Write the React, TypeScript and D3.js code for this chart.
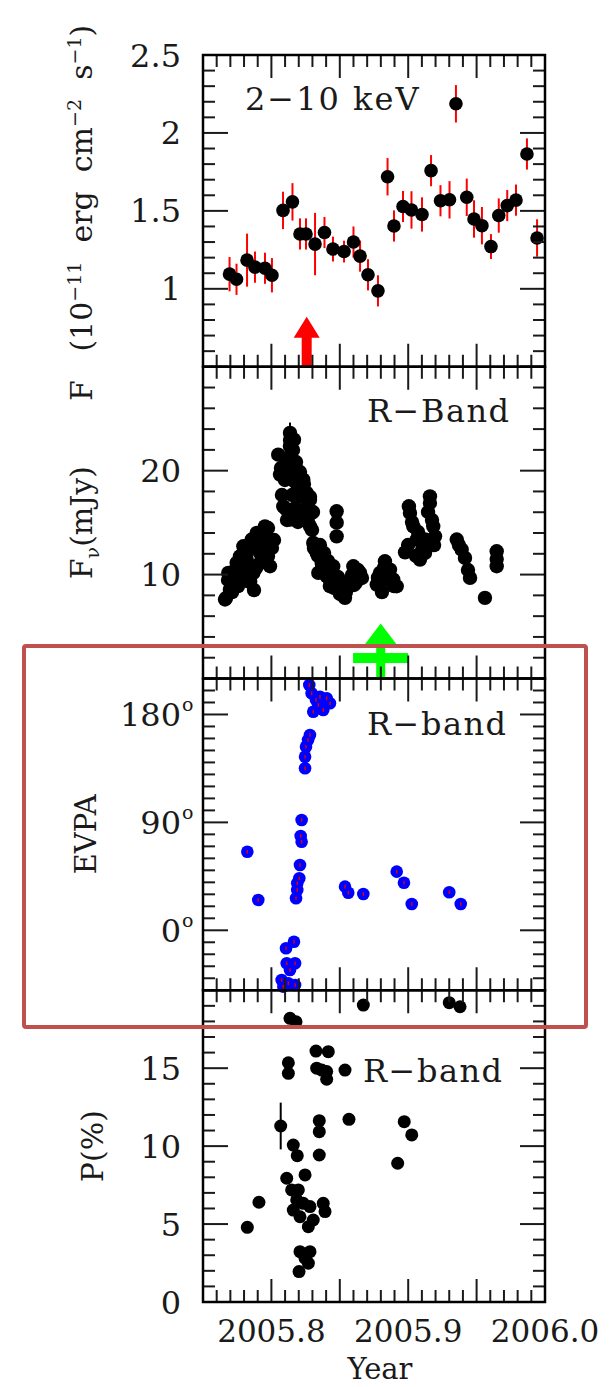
import React from 'react';
import * as d3 from 'd3';

// ---------- data ----------
// Panel 1: 2-10 keV X-ray flux (1e-11 erg cm^-2 s^-1)
const xrayYear = [2005.7694, 2005.7745, 2005.7822, 2005.7880, 2005.7953, 2005.8004, 2005.8085, 2005.8154, 2005.8209, 2005.8253, 2005.8319, 2005.8388, 2005.8450, 2005.8531, 2005.8600, 2005.8648, 2005.8706, 2005.8779, 2005.8849, 2005.8896, 2005.8962, 2005.9024, 2005.9101, 2005.9167, 2005.9236, 2005.9302, 2005.9349, 2005.9428, 2005.9481, 2005.9539, 2005.9605, 2005.9662, 2005.9724, 2005.9788, 2005.9868, 2005.9942];
const xrayFlux = [1.094, 1.061, 1.184, 1.139, 1.132, 1.087, 1.503, 1.558, 1.352, 1.352, 1.287, 1.361, 1.255, 1.239, 1.30, 1.21, 1.09, 0.987, 1.719, 1.403, 1.528, 1.506, 1.477, 1.758, 1.565, 1.571, 2.187, 1.587, 1.448, 1.405, 1.271, 1.470, 1.534, 1.569, 1.865, 1.326];
const xrayErr = [0.11, 0.10, 0.17, 0.10, 0.10, 0.11, 0.12, 0.12, 0.10, 0.10, 0.20, 0.10, 0.08, 0.07, 0.10, 0.10, 0.10, 0.10, 0.12, 0.10, 0.10, 0.12, 0.11, 0.10, 0.10, 0.12, 0.12, 0.12, 0.12, 0.12, 0.08, 0.11, 0.10, 0.10, 0.10, 0.12];

// Panel 2: R-band flux density (mJy) -- rising branch
const optYearRise = [2005.7661, 2005.7697, 2005.7685, 2005.7721, 2005.7746, 2005.7756, 2005.7770, 2005.7795, 2005.7819, 2005.7844, 2005.7856, 2005.7868, 2005.7893, 2005.7902, 2005.7917, 2005.7931, 2005.7953, 2005.7990, 2005.7990,
  2005.7683, 2005.7727, 2005.7770, 2005.7814, 2005.7858, 2005.7902, 2005.7946, 2005.7975,
  2005.7668, 2005.7712, 2005.7756, 2005.7800, 2005.7844, 2005.7887, 2005.7931, 2005.7975, 2005.8004, 2005.8019,
  2005.7741, 2005.7829, 2005.7917, 2005.7990, 2005.7844, 2005.7873];
const optFluxRise = [7.6, 8.56, 10.16, 9.52, 11.13, 10.29, 11.76, 12.72, 11.44, 9.36, 13.37, 10.16, 14.01, 10.96, 12.09, 13.37, 14.64, 12.72, 10.8,
  9.48, 10.34, 11.11, 11.88, 12.65, 13.33, 14.0, 14.48,
  7.74, 8.31, 8.89, 9.48, 10.05, 10.63, 11.21, 11.79, 12.56, 13.33,
  9.48, 10.92, 12.17, 13.33, 9.28, 8.51];
// peak
const optYearPeak = [2005.8050, 2005.8063, 2005.8087, 2005.8112, 2005.8136, 2005.8136, 2005.8136, 2005.8151, 2005.8165, 2005.8185, 2005.8194, 2005.8209, 2005.8233, 2005.8258, 2005.8282, 2005.8295, 2005.8282,
  2005.8136, 2005.8158, 2005.8121, 2005.8180, 2005.8070, 2005.8143, 2005.8209, 2005.8099, 2005.8173, 2005.8238, 2005.8077, 2005.8151, 2005.8224, 2005.8282, 2005.8099, 2005.8173, 2005.8246, 2005.8304, 2005.8114, 2005.8194, 2005.8268, 2005.8297];
const optFluxPeak = [21.54, 19.62, 16.57, 16.25, 23.63, 22.34, 15.29, 21.06, 22.98, 20.1, 18.17, 15.61, 19.13, 17.86, 17.21, 15.93, 14.64,
  22.95, 21.99, 21.22, 20.83, 20.25, 20.06, 19.87, 19.1, 18.91, 18.72, 17.66, 17.66, 17.47, 17.47, 16.41, 16.41, 16.21, 16.02, 15.25, 15.06, 15.06, 14.29];
// decline
const optYearFall = [2005.8306, 2005.8331, 2005.8368, 2005.8343, 2005.8404, 2005.8428, 2005.8452, 2005.8477, 2005.8477, 2005.8477, 2005.8477, 2005.8526, 2005.8538, 2005.8575, 2005.8599, 2005.8648, 2005.8618,
  2005.8311, 2005.8341, 2005.8370, 2005.8399, 2005.8428, 2005.8458, 2005.8501, 2005.8355, 2005.8385, 2005.8414, 2005.8443, 2005.8487, 2005.8516, 2005.8545, 2005.8589, 2005.8633, 2005.8662, 2005.8604];
const optFluxFall = [13.05, 12.09, 11.13, 10.16, 9.84, 8.88, 10.8, 9.52, 16.09, 15.0, 13.68, 8.24, 7.76, 9.52, 10.8, 10.16, 9.23,
  12.55, 11.79, 11.02, 10.25, 9.48, 8.71, 8.13, 12.84, 12.07, 11.31, 10.54, 9.77, 9.0, 8.32, 9.96, 10.44, 9.67, 9.0];
// second rise and later
const optYearLate = [2005.8770, 2005.8794, 2005.8830, 2005.8867, 2005.8891, 2005.8916, 2005.8977, 2005.9013, 2005.9037, 2005.9062, 2005.9086, 2005.9123, 2005.9123, 2005.9159, 2005.9159, 2005.9183, 2005.9196, 2005.9005,
  2005.8779, 2005.8823, 2005.8852, 2005.8896, 2005.8808, 2005.8999, 2005.9028, 2005.9072, 2005.9101, 2005.9145, 2005.9174, 2005.9189, 2005.9057,
  2005.9355, 2005.9391, 2005.9415, 2005.9452, 2005.9561, 2005.9647, 2005.9647, 2005.9647, 2005.9371, 2005.9437];
const optFluxLate = [9.04, 10.16, 11.28, 10.48, 9.52, 8.88, 12.14, 15.93, 14.64, 13.37, 11.44, 13.37, 12.09, 17.53, 16.89, 14.64, 13.68, 16.57,
  9.7, 10.66, 9.48, 8.89, 8.32, 12.84, 15.06, 14.1, 12.36, 16.02, 15.25, 12.84, 11.79,
  13.37, 12.4, 11.6, 9.68, 7.76, 12.24, 10.8, 11.5, 12.84, 10.44];
const optPeakYear = 2005.8136;
const optPeakFlux = 23.63;
const optPeakErr = 1.0;

// Panel 3: EVPA (deg)
const evpaYear = [2005.7824, 2005.7904,
  2005.8180, 2005.8189, 2005.8189, 2005.8204, 2005.8209, 2005.8221, 2005.8214, 2005.8221, 2005.8246, 2005.8246, 2005.8253, 2005.8268, 2005.8282,
  2005.8277, 2005.8294, 2005.8306, 2005.8343, 2005.8355, 2005.8379, 2005.8404, 2005.8428, 2005.8326,
  2005.8165, 2005.8107, 2005.8112, 2005.8173, 2005.8136, 2005.8075, 2005.8124, 2005.8173, 2005.8087,
  2005.8538, 2005.8562, 2005.8672, 2005.8916, 2005.8969, 2005.9026, 2005.9300, 2005.9384];
const evpaDeg = [65.5, 25.3,
  26.7, 33.6, 39.2, 43.4, 54.5, 73.9, 78.6, 92.0, 135.1, 144.8, 153.1, 158.7, 162.9,
  204.6, 197.7, 182.3, 187.9, 194.8, 183.7, 193.5, 189.3, 192.1,
  -9.5, -15, -27.5, -27.5, -33.1, -41.5, -44.2, -45.6, -47,
  36.4, 31.3, 30.3, 48.9, 39.7, 21.9, 31.7, 21.9];
const evpaErr = 1.5;

// Panel 4: polarisation degree (%)
const polYear = [2005.7824, 2005.7909, 2005.8068, 2005.8124, 2005.8124, 2005.8136, 2005.8180, 2005.8160, 2005.8189, 2005.8112, 2005.8148, 2005.8246, 2005.8197, 2005.8185, 2005.8233, 2005.8160, 2005.8209, 2005.8282, 2005.8270, 2005.8306, 2005.8379, 2005.8392,
  2005.8209, 2005.8282, 2005.8246, 2005.8270, 2005.8202, 2005.8326, 2005.8416, 2005.8331, 2005.8368, 2005.8404, 2005.8404, 2005.8538, 2005.8350, 2005.8350, 2005.8350, 2005.8567,
  2005.8971, 2005.9026, 2005.8923, 2005.8672, 2005.9300, 2005.9379];
const polP = [4.79, 6.4, 11.29, 15.35, 14.67, 18.2, 17.98, 10.07, 9.39, 7.94, 7.19, 8.15, 7.19, 6.55, 6.33, 5.9, 5.47, 6.12, 4.83, 5.26, 6.33, 5.8,
  3.23, 3.23, 2.81, 2.49, 1.95, 16.1, 16.06, 15.0, 14.88, 14.78, 14.29, 14.88, 11.63, 10.93, 9.43, 11.72,
  11.57, 10.72, 8.9, 19.05, 19.2, 18.94];
const polErrIndex = 2;
const polErrValue = 1.5;

// Event markers
const xrayArrowYear = 2005.8258;
const xrayArrowTip = 0.82;
const optArrowYear = 2005.8799;
const optArrowTip = 5.3;
const optBarRange = [2005.8597, 2005.9];
const optBarLevel = 1.97;

// Axis tick labels
const xTickLabels = [2005.8, 2005.9, 2006.0];
const p1Labels = [1, 1.5, 2, 2.5];
const p2Labels = [10, 20];
const p3Labels = [0, 90, 180];
const p4Labels = [0, 5, 10, 15];

const FONT = 'DejaVu Serif';

export default function App() {
  const W = 612, H = 1387;
  const L = 203, R = 545, T = 55, PH = 311.75;
  const x = d3.scaleLinear().domain([2005.75, 2006.0]).range([L, R]);
  const defs = [
    { dom: [0.5, 2.5], minor: 0.1, major: 0.5 },
    { dom: [0, 30], minor: 2, major: 10 },
    { dom: [-50, 210], minor: 10, major: 90 },
    { dom: [0, 20], minor: 1, major: 5 },
  ];
  const ys = defs.map((p, i) =>
    d3.scaleLinear().domain(p.dom).range([T + (i + 1) * PH, T + i * PH])
  );
  const MAJ = 23, MIN = 12;
  const tickColor = '#1a1a1a';

  const optYear = [...optYearRise, ...optYearPeak, ...optYearFall, ...optYearLate];
  const optFlux = [...optFluxRise, ...optFluxPeak, ...optFluxFall, ...optFluxLate];

  const xTicks = d3.range(0, 26).map((i) => ({ v: 2005.75 + i * 0.01, major: i % 5 === 0 }));

  const panelAxes = defs.map((p, i) => {
    const y = ys[i];
    const top = T + i * PH, bot = T + (i + 1) * PH;
    const n = Math.round((p.dom[1] - p.dom[0]) / p.minor);
    const yTicks = d3.range(0, n + 1).map((k) => {
      const v = p.dom[0] + k * p.minor;
      const r = v / p.major;
      return { v, major: Math.abs(r - Math.round(r)) < 1e-6 };
    });
    return (
      <g key={'ax' + i}>
        {xTicks.map((t, k) => {
          const len = t.major ? MAJ : MIN;
          const xx = x(t.v);
          return (
            <g key={k}>
              <line x1={xx} x2={xx} y1={top} y2={top + len} stroke={tickColor} strokeWidth={2} />
              <line x1={xx} x2={xx} y1={bot} y2={bot - len} stroke={tickColor} strokeWidth={2} />
            </g>
          );
        })}
        {yTicks.map((t, k) => {
          const len = t.major ? MAJ + 2 : MIN;
          const yy = y(t.v);
          return (
            <g key={'y' + k}>
              <line x1={L} x2={L + len} y1={yy} y2={yy} stroke={tickColor} strokeWidth={2} />
              <line x1={R} x2={R - len} y1={yy} y2={yy} stroke={tickColor} strokeWidth={2} />
            </g>
          );
        })}
        <rect x={L} y={top} width={R - L} height={PH} fill="none" stroke="#000" strokeWidth={2.5} />
      </g>
    );
  });

  const tickLabel = (txt: string, yy: number, key: string) => (
    <text key={key} x={181} y={yy} dy="0.36em" textAnchor="end" fontFamily={FONT} fontSize={32} fill="#1a1a1a">
      {txt}
    </text>
  );

  const y1 = ys[0], y2 = ys[1], y3 = ys[2], y4 = ys[3];

  // arrows
  const ax = x(xrayArrowYear);
  const aTip = y1(xrayArrowTip);
  const redArrow = `M${ax},${aTip} L${ax + 13},${aTip + 21} L${ax + 5},${aTip + 21} L${ax + 5},${y1(0.5)} L${ax - 5},${y1(0.5)} L${ax - 5},${aTip + 21} L${ax - 13},${aTip + 21} Z`;
  const gx = x(optArrowYear);
  const gTip = y2(optArrowTip);
  const greenHead = `M${gx},${gTip} L${gx + 16},${gTip + 21} L${gx - 16},${gTip + 21} Z`;

  return (
    <svg width={W} height={H} style={{ position: 'absolute', left: 0, top: 0, background: '#fff' }}>
      <rect x={0} y={0} width={W} height={H} fill="#fff" />

      {/* Panel 1 data */}
      <g>
        {xrayYear.map((yr, i) => (
          <line key={'e' + i} x1={x(yr)} x2={x(yr)} y1={y1(xrayFlux[i] - xrayErr[i])} y2={y1(xrayFlux[i] + xrayErr[i])} stroke="#ff0000" strokeWidth={2} />
        ))}
        {xrayYear.map((yr, i) => (
          <circle key={'c' + i} cx={x(yr)} cy={y1(xrayFlux[i])} r={6.8} fill="#000" />
        ))}
        <path d={redArrow} fill="#ff0000" />
      </g>

      {/* Panel 2 data */}
      <g>
        <line x1={x(optPeakYear)} x2={x(optPeakYear)} y1={y2(optPeakFlux)} y2={y2(optPeakFlux + optPeakErr)} stroke="#000" strokeWidth={2} />
        {optYear.map((yr, i) => (
          <circle key={'o' + i} cx={x(yr)} cy={y2(optFlux[i])} r={7.2} fill="#000" />
        ))}
        <path d={greenHead} fill="#00ff00" />
        <rect x={gx - 4.5} y={gTip + 20} width={9} height={y2(0) - gTip - 20} fill="#00ff00" />
        <rect x={x(optBarRange[0])} y={y2(optBarLevel) - 5} width={x(optBarRange[1]) - x(optBarRange[0])} height={10} fill="#00ff00" />
      </g>

      {/* Panel 3 data */}
      <g>
        {evpaYear.map((yr, i) => (
          <circle key={'v' + i} cx={x(yr)} cy={y3(evpaDeg[i])} r={6.3} fill="#0000ff" />
        ))}
        {evpaYear.map((yr, i) => (
          <line key={'ve' + i} x1={x(yr)} x2={x(yr)} y1={y3(evpaDeg[i] - evpaErr)} y2={y3(evpaDeg[i] + evpaErr)} stroke="#dd0000" strokeWidth={1.5} />
        ))}
      </g>

      {/* Panel 4 data */}
      <g>
        <line x1={x(polYear[polErrIndex])} x2={x(polYear[polErrIndex])} y1={y4(polP[polErrIndex] - polErrValue)} y2={y4(polP[polErrIndex] + polErrValue)} stroke="#000" strokeWidth={2} />
        {polYear.map((yr, i) => (
          <circle key={'p' + i} cx={x(yr)} cy={y4(polP[i])} r={6.5} fill="#000" />
        ))}
      </g>

      {panelAxes}

      {/* y tick labels */}
      {p1Labels.map((v) => tickLabel(String(v), y1(v), 'l1' + v))}
      {p2Labels.map((v) => tickLabel(String(v), y2(v), 'l2' + v))}
      {p3Labels.map((v) => (
        <g key={'l3' + v}>
          {tickLabel(String(v), y3(v), 't')}
          <text x={182} y={y3(v) - 3} textAnchor="start" fontFamily={FONT} fontSize={19} fill="#1a1a1a">o</text>
        </g>
      ))}
      {p4Labels.map((v) => tickLabel(String(v), y4(v), 'l4' + v))}

      {/* x tick labels */}
      {xTickLabels.map((v) => (
        <text key={'xl' + v} x={x(v)} y={1342} textAnchor="middle" fontFamily={FONT} fontSize={31} fill="#1a1a1a">
          {d3.format('.1f')(v)}
        </text>
      ))}
      <text x={380} y={1379} textAnchor="middle" fontFamily={FONT} fontSize={29} fill="#1a1a1a">Year</text>

      {/* panel annotations */}
      <text x={245} y={110} fontFamily={FONT} fontSize={32} letterSpacing={2} fill="#1a1a1a">2−10 keV</text>
      <text x={367} y={422} fontFamily={FONT} fontSize={32} letterSpacing={1.5} fill="#1a1a1a">R−Band</text>
      <text x={367} y={735} fontFamily={FONT} fontSize={32} letterSpacing={1.5} fill="#1a1a1a">R−band</text>
      <text x={363} y={1082} fontFamily={FONT} fontSize={32} letterSpacing={1.5} fill="#1a1a1a">R−band</text>

      {/* y axis titles */}
      <text transform={`translate(92,${(T + T + PH) / 2 + 2}) rotate(-90)`} textAnchor="middle" fontFamily={FONT} fontSize={30} fill="#1a1a1a" style={{ whiteSpace: 'pre' }}>
        <tspan>{'F   (10'}</tspan>
        <tspan dy={-11} fontSize={19}>{'−11'}</tspan>
        <tspan dy={11}>{'  erg  cm'}</tspan>
        <tspan dy={-11} fontSize={19}>{'−2'}</tspan>
        <tspan dy={11}>{'  s'}</tspan>
        <tspan dy={-11} fontSize={19}>{'−1'}</tspan>
        <tspan dy={11}>{')'}</tspan>
      </text>
      <text transform={`translate(92,${T + 1.5 * PH}) rotate(-90)`} textAnchor="middle" fontFamily={FONT} fontSize={30} fill="#1a1a1a">
        <tspan>F</tspan>
        <tspan dy={7} fontSize={19}>ν</tspan>
        <tspan dy={-7}>(mJy)</tspan>
      </text>
      <text transform={`translate(96,${T + 2.5 * PH}) rotate(-90)`} textAnchor="middle" fontFamily={FONT} fontSize={29} fill="#1a1a1a">EVPA</text>
      <text transform={`translate(103,${T + 3.5 * PH}) rotate(-90)`} textAnchor="middle" fontFamily={FONT} fontSize={30} fill="#1a1a1a">P(%)</text>

      {/* highlight box */}
      <rect x={24} y={646} width={562} height={381} rx={2} fill="none" stroke="#c0504d" strokeWidth={4} />
    </svg>
  );
}
